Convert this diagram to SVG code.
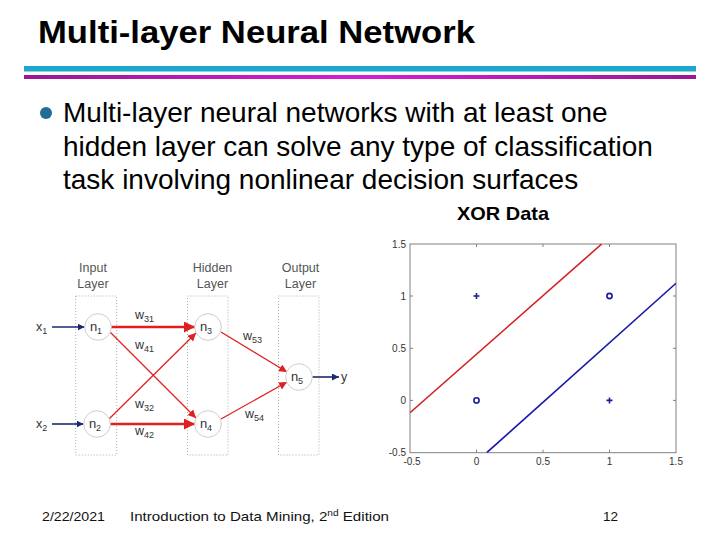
<svg xmlns="http://www.w3.org/2000/svg" width="720" height="540" viewBox="0 0 720 540">
<defs>
<linearGradient id="mag" x1="0" x2="1" y1="0" y2="0">
<stop offset="0" stop-color="#9a1890"/>
<stop offset="0.5" stop-color="#d61fcf"/>
<stop offset="1" stop-color="#9a1890"/>
</linearGradient>
<marker id="ab" viewBox="0 0 10 10" refX="10" refY="5" markerWidth="7" markerHeight="7" markerUnits="userSpaceOnUse" orient="auto"><path d="M0,0 L10,5 L0,10 z" fill="#1a2a70"/></marker>
<marker id="ar" viewBox="0 0 10 10" refX="10" refY="5" markerWidth="8" markerHeight="8" markerUnits="userSpaceOnUse" orient="auto"><path d="M0,0 L10,5 L0,10 z" fill="#e02020"/></marker>
<marker id="arb" viewBox="0 0 10 10" refX="10" refY="5" markerWidth="11" markerHeight="11" markerUnits="userSpaceOnUse" orient="auto"><path d="M0,0 L10,5 L0,10 z" fill="#e02020"/></marker>
<clipPath id="plot"><rect x="410" y="244" width="266" height="208.7"/></clipPath>
</defs>
<style>
text{font-family:"Liberation Sans",Arial,sans-serif}
.lay{font-size:12.5px;fill:#555;text-anchor:middle}
.node circle{fill:#fff;stroke:#cfcfcf;stroke-width:1}
.node text{font-size:13px;fill:#333;text-anchor:middle}
.sub{font-size:9px}
.w{font-size:12.5px;fill:#333}
.box{fill:none;stroke:#999;stroke-width:0.8;stroke-dasharray:1,2}
.tick{font-size:10px;fill:#333}
.ax{fill:none;stroke:#808080;stroke-width:1}
.body{font-size:28px;fill:#000}
.foot{font-size:13.5px;fill:#111}
</style>
<rect width="720" height="540" fill="#fff"/>

<text x="38" y="43" font-size="31" font-weight="bold" textLength="437" lengthAdjust="spacingAndGlyphs">Multi-layer Neural Network</text>
<rect x="24" y="66" width="672" height="5.5" fill="#1ba8cc"/>
<rect x="24" y="75" width="672" height="4" fill="url(#mag)"/>

<circle cx="46" cy="113" r="6" fill="#1f6e96"/>
<text class="body" x="63" y="122">Multi-layer neural networks with at least one</text>
<text class="body" x="63" y="155.5">hidden layer can solve any type of classification</text>
<text class="body" x="63" y="189">task involving nonlinear decision surfaces</text>

<text x="503" y="220" font-size="19" font-weight="bold" text-anchor="middle" textLength="92" lengthAdjust="spacingAndGlyphs">XOR Data</text>

<!-- neural net -->
<g id="layers">
<rect class="box" x="75.7" y="296" width="41" height="159"/>
<rect class="box" x="187.5" y="296" width="40.5" height="159"/>
<rect class="box" x="278.5" y="296" width="40.5" height="159"/>
<text class="lay" x="93" y="272">Input</text>
<text class="lay" x="93" y="288">Layer</text>
<text class="lay" x="212.5" y="272">Hidden</text>
<text class="lay" x="212.5" y="288">Layer</text>
<text class="lay" x="300.5" y="272">Output</text>
<text class="lay" x="300.5" y="288">Layer</text>
</g>

<g id="connectors">
<line x1="52" y1="327" x2="84.5" y2="327" stroke="#1a2a70" stroke-width="1.6" marker-end="url(#ab)"/>
<line x1="52" y1="424" x2="83.5" y2="424" stroke="#1a2a70" stroke-width="1.6" marker-end="url(#ab)"/>
<line x1="312" y1="377" x2="339" y2="377" stroke="#1a2a70" stroke-width="1.6" marker-end="url(#ab)"/>
<line x1="111" y1="327" x2="195" y2="327" stroke="#e02020" stroke-width="2.6" marker-end="url(#arb)"/>
<line x1="110" y1="424" x2="195" y2="424" stroke="#e02020" stroke-width="2.6" marker-end="url(#arb)"/>
<line x1="110" y1="332" x2="196" y2="418" stroke="#e02020" stroke-width="1.3" marker-end="url(#ar)"/>
<line x1="109" y1="419" x2="196" y2="333" stroke="#e02020" stroke-width="1.3" marker-end="url(#ar)"/>
<line x1="221" y1="332" x2="287" y2="372" stroke="#e02020" stroke-width="1.3" marker-end="url(#ar)"/>
<line x1="221" y1="419" x2="287" y2="382" stroke="#e02020" stroke-width="1.3" marker-end="url(#ar)"/>
</g>

<g id="labels">
<text class="w" x="36" y="331">x<tspan class="sub" dy="3">1</tspan></text>
<text class="w" x="36" y="428">x<tspan class="sub" dy="3">2</tspan></text>
<text class="w" x="341" y="381">y</text>
<text class="w" x="135" y="319">w<tspan class="sub" dy="3">31</tspan></text>
<text class="w" x="135" y="349">w<tspan class="sub" dy="3">41</tspan></text>
<text class="w" x="135" y="408">w<tspan class="sub" dy="3">32</tspan></text>
<text class="w" x="135" y="435">w<tspan class="sub" dy="3">42</tspan></text>
<text class="w" x="243" y="340">w<tspan class="sub" dy="3">53</tspan></text>
<text class="w" x="245" y="418">w<tspan class="sub" dy="3">54</tspan></text>
</g>

<g id="n1" class="node"><circle cx="98" cy="327" r="13.3"/><text x="96" y="331">n<tspan class="sub" dy="3">1</tspan></text></g>
<g id="n2" class="node"><circle cx="97" cy="424" r="13.3"/><text x="95" y="428">n<tspan class="sub" dy="3">2</tspan></text></g>
<g id="n3" class="node"><circle cx="208" cy="327" r="13.3"/><text x="206" y="331">n<tspan class="sub" dy="3">3</tspan></text></g>
<g id="n4" class="node"><circle cx="208" cy="424" r="13.3"/><text x="206" y="428">n<tspan class="sub" dy="3">4</tspan></text></g>
<g id="n5" class="node"><circle cx="299" cy="377" r="13.3"/><text x="297" y="381">n<tspan class="sub" dy="3">5</tspan></text></g>

<!-- plot -->
<g id="plot-area">
<rect class="ax" x="410" y="244" width="266" height="208.7"/>
<g stroke="#808080" stroke-width="1">
<path d="M476.5,244v3M543,244v3M609.5,244v3M476.5,452.7v-3M543,452.7v-3M609.5,452.7v-3"/>
<path d="M410,296h3M410,348.3h3M410,400.4h3M676,296h-3M676,348.3h-3M676,400.4h-3"/>
</g>
<g clip-path="url(#plot)">
<line x1="410" y1="412.7" x2="601.7" y2="244" stroke="#d42020" stroke-width="1.6"/>
<line x1="486.7" y1="452.7" x2="676" y2="283.3" stroke="#1a1aaa" stroke-width="1.6"/>
</g>
<g stroke="#1a1a9a" stroke-width="1.6" fill="none">
<path d="M473.5,296h6M476.5,293v6M606.5,400.4h6M609.5,397.4v6"/>
<circle cx="609.5" cy="296" r="2.6"/>
<circle cx="476.5" cy="400.4" r="2.6"/>
</g>
<g class="tick" text-anchor="end">
<text x="406" y="248">1.5</text>
<text x="406" y="299.5">1</text>
<text x="406" y="351.5">0.5</text>
<text x="406" y="403.5">0</text>
<text x="406" y="456">-0.5</text>
</g>
<g class="tick" text-anchor="middle">
<text x="412" y="465">-0.5</text>
<text x="476.5" y="465">0</text>
<text x="543" y="465">0.5</text>
<text x="609.5" y="465">1</text>
<text x="676" y="465">1.5</text>
</g>
</g>

<text class="foot" x="42" y="521" textLength="63" lengthAdjust="spacingAndGlyphs">2/22/2021</text>
<text class="foot" x="130" y="521" textLength="259" lengthAdjust="spacingAndGlyphs">Introduction to Data Mining, 2<tspan font-size="9" dy="-5">nd</tspan><tspan dy="5"> Edition</tspan></text>
<text class="foot" x="603" y="521">12</text>
</svg>
